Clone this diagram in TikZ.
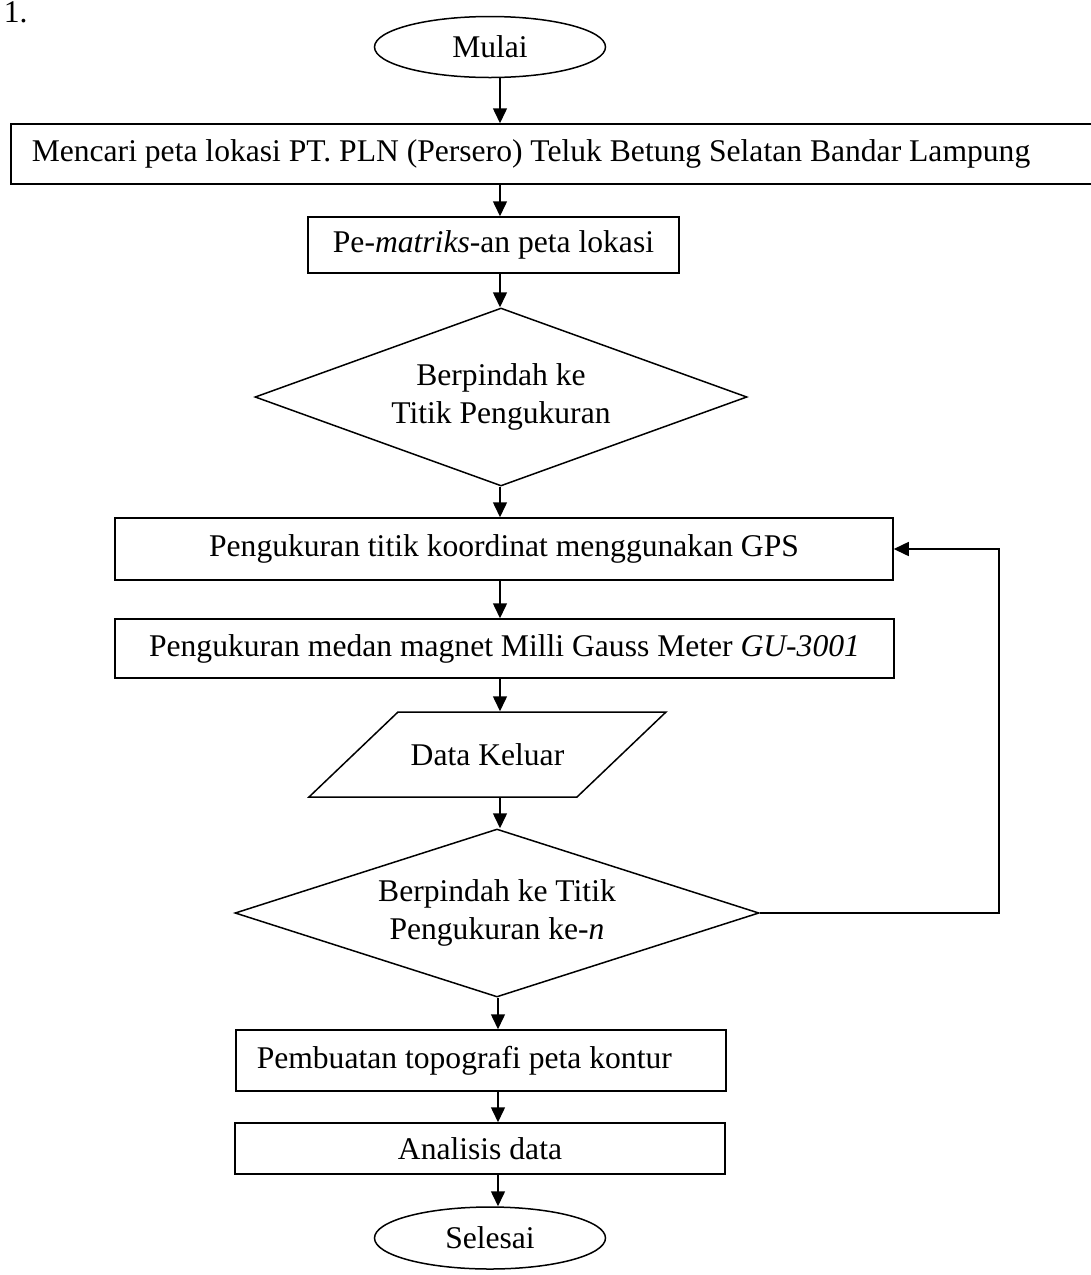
\documentclass[tikz,border=0pt]{standalone}
\usepackage{fontspec}
\setmainfont{Liberation Serif}
\usepackage{tikz}
\usetikzlibrary{arrows.meta,positioning,shapes.geometric}

\begin{document}
\begin{tikzpicture}[x=0.5pt,y=-0.5pt,
  font=\fontsize{15.8}{19}\selectfont,
  line width=0.75pt,
  arr/.style={-{Triangle[length=7.5pt,width=7pt]}},
  kotak/.style={draw,rectangle,inner sep=0pt,align=center},
  oval/.style={draw,ellipse,inner sep=0pt,minimum width=115.5pt},
  cek/.style={draw,diamond,inner sep=1pt,align=center}]
  \useasboundingbox (0,0) rectangle (1091,1275);
  \clip (0,0) rectangle (1091,1275);

  \node[anchor=base west,inner sep=0pt] (nomor) at (3,22) {1.};

  % arrow columns
  \coordinate (jalur) at (500,0);
  \coordinate (jalurb) at (498,0);
  \coordinate (balik) at (999,0);

  \node[oval,minimum height=30.5pt] (mulai) at (490,47) {Mulai};
  \node[kotak,anchor=west,text width=545pt,align=flush left,inner xsep=10.5pt,minimum height=30pt]
    (cari) at (10,154) {Mencari peta lokasi PT. PLN (Persero) Teluk Betung Selatan Bandar Lampung};
  \node[kotak,minimum width=185.5pt,minimum height=28pt] (matriks) at (493.5,245)
    {Pe-\textit{matriks}-an peta lokasi};
  \node[cek,aspect=2.76,minimum width=246pt,minimum height=89pt] (cek1) at (501,397)
    {Berpindah ke\\Titik Pengukuran};
  \node[kotak,minimum width=389pt,minimum height=31pt] (gps) at (504,549)
    {Pengukuran titik koordinat menggunakan GPS};
  \node[kotak,minimum width=389.5pt,minimum height=29.5pt] (medan) at (504.5,648.5)
    {Pengukuran medan magnet Milli Gauss Meter \textit{GU-3001}};
  % data output (parallelogram)
  \node[inner sep=0pt,minimum height=42.5pt] (keluar) at (487.5,754.5) {Data Keluar};
  \draw (398,712) -- (666,712) -- (577,797) -- (309,797) -- cycle;
  \node[cek,aspect=3.12,minimum width=262pt,minimum height=84pt] (cek2) at (497,913)
    {Berpindah ke Titik\\Pengukuran ke-\textit{n}};
  \node[kotak,anchor=west,text width=224pt,align=flush left,inner xsep=10.5pt,minimum height=30.5pt]
    (kontur) at (235,1060.5) {Pembuatan topografi peta kontur};
  \node[kotak,minimum width=245pt,minimum height=25.5pt] (analisis) at (480,1148.5)
    {Analisis data};
  \node[oval,minimum height=31pt] (selesai) at (490,1238) {Selesai};

  % main flow
  \draw[arr] (mulai.south -| jalur) -- (cari.north -| jalur);
  \draw[arr] (cari.south -| jalur) -- (matriks.north -| jalur);
  \draw[arr] (matriks.south -| jalur) -- (cek1.north -| jalur);
  \draw[arr] (cek1.south -| jalur) -- (gps.north -| jalur);
  \draw[arr] (gps.south -| jalur) -- (medan.north -| jalur);
  \draw[arr] (medan.south -| jalur) -- (keluar.north -| jalur);
  \draw[arr] (keluar.south -| jalur) -- (cek2.north -| jalur);
  \draw[arr] (cek2.south -| jalurb) -- (kontur.north -| jalurb);
  \draw[arr] (kontur.south -| jalurb) -- (analisis.north -| jalurb);
  \draw[arr] (analisis.south -| jalurb) -- (selesai.north -| jalurb);

  % back to GPS
  \draw[arr] (cek2.east) -- (cek2.east -| balik) |- (gps.east);
\end{tikzpicture}
\end{document}
